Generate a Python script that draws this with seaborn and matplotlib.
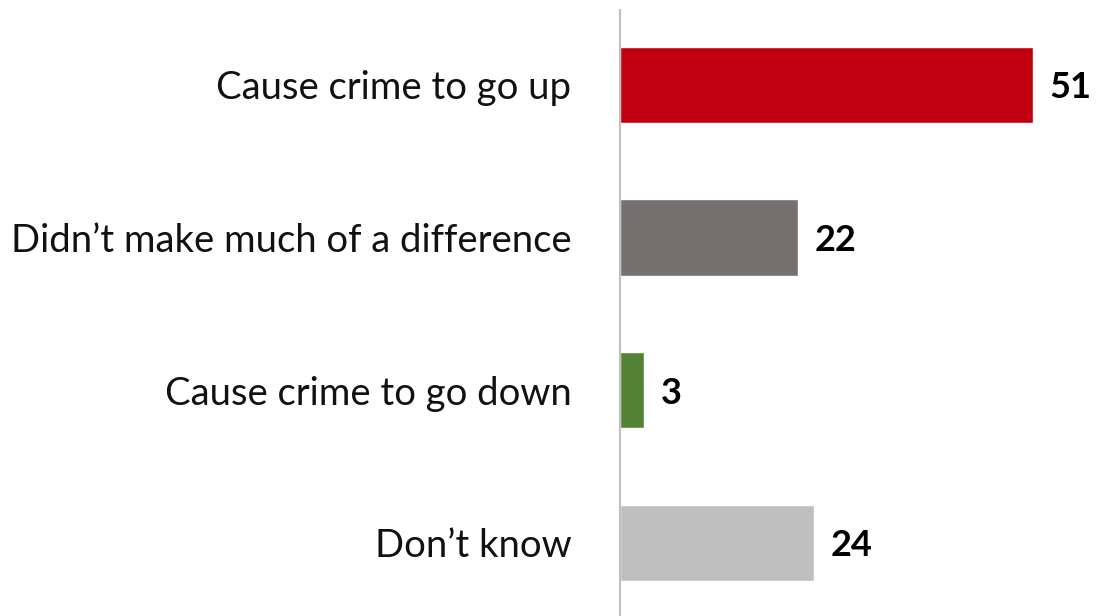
import matplotlib
matplotlib.use("Agg")
import pandas as pd
import seaborn as sns
from matplotlib import pyplot as plt

categories = ["Cause crime to go up", "Didn\u2019t make much of a difference",
              "Cause crime to go down", "Don\u2019t know"]
values = [51, 22, 3, 24]
colors = ["#C00010", "#767171", "#548235", "#BFBFBF"]

df = pd.DataFrame({"answer": categories, "pct": values})

sns.set_style("white")
plt.rcParams["font.family"] = ["Lato", "DejaVu Sans"]

fig = plt.figure(figsize=(10.97, 6.16), dpi=100)
ax = fig.add_axes([620 / 1097, 0, 477 / 1097, 606 / 616])

sns.barplot(data=df, x="pct", y="answer", hue="answer", palette=colors,
            order=categories, hue_order=categories, width=0.5,
            saturation=1, legend=False, ax=ax)

for i, v in enumerate(values):
    ax.text(v + 2.0, i + 0.02, str(v), va="center", ha="left",
            fontsize=26, fontweight="bold", color="black")

ax.set_xlim(0, 58.9)
ax.set_ylim(3.48, -0.49)
ax.set_xlabel("")
ax.set_ylabel("")
ax.set_xticks([])
ax.tick_params(axis="y", length=0, pad=35, labelsize=27.5)
for lab in ax.get_yticklabels():
    lab.set_color("#111111")

for side in ["top", "right", "bottom"]:
    ax.spines[side].set_visible(False)
ax.spines["left"].set_color("#BFBFBF")
ax.spines["left"].set_linewidth(1.5)

fig.savefig("out.png", dpi=100)
